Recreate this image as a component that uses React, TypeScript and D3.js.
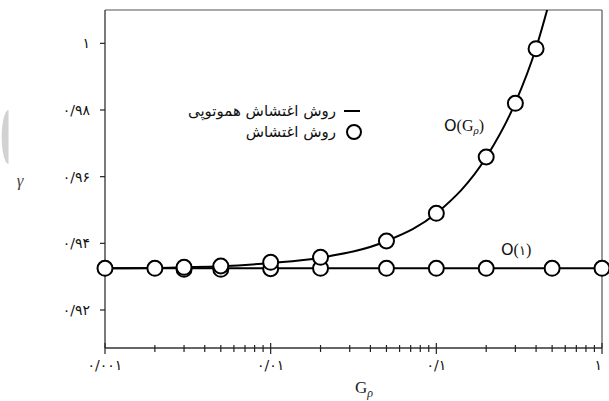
import React from "react";
import * as d3 from "d3";

const W = 609;
const H = 401;
const PLOT = { left: 105, right: 602, top: 10, bottom: 348 };

const xTickValues = [0.001, 0.01, 0.1, 1];
const xTickLabels = ["۰/۰۰۱", "۰/۰۱", "۰/۱", "۱"];
const yTickValues = [1, 0.98, 0.96, 0.94, 0.92];
const yTickLabels = ["۱", "۰/۹۸", "۰/۹۶", "۰/۹۴", "۰/۹۲"];

// homotopy perturbation method (solid line)
const homotopyG = [0.001, 0.002, 0.003, 0.005, 0.01, 0.02, 0.05, 0.1, 0.2, 0.3, 0.4, 0.5];
const homotopyGamma = [0.9325, 0.9326, 0.9328, 0.9331, 0.9341, 0.9357, 0.9407, 0.949, 0.9658, 0.9822, 0.9986, 1.0155];

// O(1) line
const orderOneLineG = [0.001, 1];
const orderOneLineGamma = [0.9325, 0.9325];

// perturbation method circles, O(1)
const orderOneG = [0.001, 0.002, 0.003, 0.005, 0.01, 0.02, 0.05, 0.1, 0.2, 0.5, 1];
const orderOneGamma = [0.9325, 0.9325, 0.9322, 0.9322, 0.9324, 0.9325, 0.9325, 0.9325, 0.9325, 0.9325, 0.9325];

// perturbation method circles, O(G_rho)
const orderGG = [0.003, 0.005, 0.01, 0.02, 0.05, 0.1, 0.2, 0.3, 0.4];
const orderGGamma = [0.9328, 0.9332, 0.9343, 0.9358, 0.9407, 0.949, 0.9659, 0.982, 0.9984];

const legendLabels = ["روش اغتشاش هموتوپی", "روش اغتشاش"];

export default function App() {
  const x = d3.scaleLog().domain([0.001, 1]).range([PLOT.left, PLOT.right]);
  const y = d3.scaleLinear().domain([0.9086, 1.01]).range([PLOT.bottom, PLOT.top]);

  const line = d3
    .line<[number, number]>()
    .x((d) => x(d[0]))
    .y((d) => y(d[1]))
    .curve(d3.curveMonotoneX);

  const homotopyPts: [number, number][] = homotopyG.map((g, i) => [g, homotopyGamma[i]]);
  const constPts: [number, number][] = orderOneLineG.map((g, i) => [g, orderOneLineGamma[i]]);

  const allTicks = x.ticks();
  const majorSet = new Set(xTickValues.map((v) => v.toPrecision(3)));

  const digitFont = "'DejaVu Sans', sans-serif";
  const serif = "'Liberation Serif', 'DejaVu Serif', serif";

  return (
    <div style={{ position: "fixed", left: 0, top: 0, width: W, height: H, background: "#fff" }}>
      <svg width={W} height={H} viewBox={`0 0 ${W} ${H}`}>
        <defs>
          <clipPath id="plotClip">
            <rect x={PLOT.left} y={PLOT.top} width={PLOT.right - PLOT.left} height={PLOT.bottom - PLOT.top} />
          </clipPath>
        </defs>
        <rect x={0} y={0} width={W} height={H} fill="#fff" />

        {/* grey artifact at left edge */}
        <path d="M 8.5 110 A 6.8 27 0 0 0 8.5 164 Z" fill="#d2d2d2" />

        {/* frame */}
        <line x1={PLOT.left} x2={PLOT.right} y1={PLOT.top} y2={PLOT.top} stroke="#555" strokeWidth={1.2} />
        <line x1={PLOT.right} x2={PLOT.right} y1={PLOT.top} y2={PLOT.bottom} stroke="#555" strokeWidth={1.2} />
        <line x1={PLOT.left} x2={PLOT.left} y1={PLOT.top} y2={PLOT.bottom} stroke="#333" strokeWidth={1.3} />
        <line x1={PLOT.left} x2={PLOT.right} y1={PLOT.bottom} y2={PLOT.bottom} stroke="#333" strokeWidth={1.3} />

        {/* x ticks */}
        {allTicks.map((t, i) => {
          const major = majorSet.has(t.toPrecision(3));
          return (
            <line
              key={"xt" + i}
              x1={x(t)}
              x2={x(t)}
              y1={PLOT.bottom - (major ? 5 : 3)}
              y2={PLOT.bottom + (major ? 6 : 4)}
              stroke="#222"
              strokeWidth={1.2}
            />
          );
        })}
        {xTickValues.map((t, i) => (
          <text
            key={"xl" + i}
            x={x(t)}
            y={370}
            fontFamily={digitFont}
            fontSize={14}
            textAnchor={i === xTickValues.length - 1 ? "end" : "middle"}
            direction="ltr"
            fill="#111"
          >
            {xTickLabels[i]}
          </text>
        ))}

        {/* y ticks */}
        {yTickValues.map((t, i) => (
          <g key={"yt" + i}>
            <line x1={PLOT.left - 5} x2={PLOT.left} y1={y(t)} y2={y(t)} stroke="#222" strokeWidth={1.2} />
            <text
              x={90}
              y={y(t) + 5}
              fontFamily={digitFont}
              fontSize={14}
              textAnchor="end"
              direction="ltr"
              fill="#111"
            >
              {yTickLabels[i]}
            </text>
          </g>
        ))}

        {/* axis titles */}
        <text x={20} y={186} fontFamily={serif} fontStyle="italic" fontSize={17} textAnchor="middle" fill="#444">
          γ
        </text>
        <text x={355} y={393} fontFamily={serif} fontSize={17} fill="#222">
          G
          <tspan fontStyle="italic" fontSize={12} dy={4}>
            ρ
          </tspan>
        </text>

        {/* lines */}
        <g clipPath="url(#plotClip)">
          <path d={line(constPts) || ""} fill="none" stroke="#000" strokeWidth={2} />
          <path d={line(homotopyPts) || ""} fill="none" stroke="#000" strokeWidth={2} />
        </g>

        {/* circles */}
        {orderOneG.map((g, i) => (
          <circle key={"o1" + i} cx={x(g)} cy={y(orderOneGamma[i])} r={7.5} fill="#fff" stroke="#000" strokeWidth={2} />
        ))}
        {orderGG.map((g, i) => (
          <circle key={"og" + i} cx={x(g)} cy={y(orderGGamma[i])} r={7.5} fill="#fff" stroke="#000" strokeWidth={2} />
        ))}

        {/* annotations */}
        <text x={444} y={131} fontFamily={serif} fontSize={16} fill="#111">
          <tspan fontFamily="'DejaVu Sans', sans-serif" fontSize={16}>O</tspan>
          (G
          <tspan fontStyle="italic" fontSize={11} dy={3}>ρ</tspan>
          <tspan dy={-3}>)</tspan>
        </text>
        <text x={501} y={255} fontFamily={serif} fontSize={16} fill="#111" direction="ltr">
          <tspan fontFamily="'DejaVu Sans', sans-serif" fontSize={16}>O</tspan>
          <tspan>(</tspan>
          <tspan fontFamily={digitFont} fontSize={13}>۱</tspan>
          <tspan>)</tspan>
        </text>

        {/* legend */}
        <line x1={344} x2={360} y1={111} y2={111} stroke="#000" strokeWidth={2} />
        <circle cx={354} cy={132} r={7} fill="#fff" stroke="#000" strokeWidth={2} />
        {legendLabels.map((t, i) => (
          <text
            key={"lg" + i}
            x={336}
            y={116 + i * 21}
            fontFamily="'DejaVu Sans', sans-serif"
            fontSize={15}
            direction="rtl"
            textAnchor="start"
            fill="#111"
          >
            {t}
          </text>
        ))}
      </svg>
    </div>
  );
}
